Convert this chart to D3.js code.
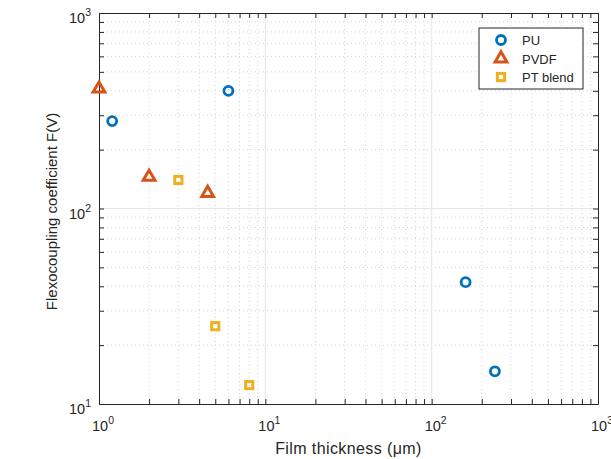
<!DOCTYPE html>
<html>
<head>
<meta charset="utf-8">
<script src="https://cdn.jsdelivr.net/npm/d3@7"></script>
<style>
  body { margin: 0; background: #fff; }
  text { font-family: "Liberation Sans", Arial, sans-serif; fill: #262626; }
</style>
</head>
<body>
<div id="chart"></div>
<script>
// data
const puX = [1.2, 6, 160, 240];
const puY = [280, 400, 42, 14.7];
const pvdfX = [1, 2, 4.5];
const pvdfY = [410, 145, 120];
const ptX = [3, 5, 8];
const ptY = [140, 25, 12.5];
const seriesNames = ["PU", "PVDF", "PT blend"];
const xTicks = [1, 10, 100, 1000];
const yTicks = [10, 100, 1000];

const W = 611, H = 459;
const margin = { top: 13, right: 13, bottom: 55, left: 99 };
const width = W - margin.left - margin.right;
const height = H - margin.top - margin.bottom;

const svg = d3.select("#chart").append("svg")
    .attr("width", W)
    .attr("height", H);
const g = svg.append("g")
    .attr("transform", `translate(${margin.left},${margin.top})`);

const x = d3.scaleLog().domain([1, 1000]).range([0, width]);
const y = d3.scaleLog().domain([10, 1000]).range([height, 0]);

// minor ticks 2..9 for each decade
const minorX = [], minorY = [];
for (let d = 0; d < 3; d++) for (let k = 2; k < 10; k++) minorX.push(k * Math.pow(10, d));
for (let d = 1; d < 3; d++) for (let k = 2; k < 10; k++) minorY.push(k * Math.pow(10, d));

// grid
g.selectAll(".mgx").data(minorX).enter().append("line")
    .attr("x1", d => x(d)).attr("x2", d => x(d))
    .attr("y1", 0).attr("y2", height)
    .attr("stroke", "#d4d4d4").attr("stroke-width", 1).attr("stroke-dasharray", "1,3");
g.selectAll(".mgy").data(minorY).enter().append("line")
    .attr("y1", d => y(d)).attr("y2", d => y(d))
    .attr("x1", 0).attr("x2", width)
    .attr("stroke", "#d4d4d4").attr("stroke-width", 1).attr("stroke-dasharray", "1,3");
g.selectAll(".gx").data(xTicks.slice(1, -1)).enter().append("line")
    .attr("x1", d => x(d)).attr("x2", d => x(d))
    .attr("y1", 0).attr("y2", height)
    .attr("stroke", "#e6e6e6").attr("stroke-width", 1);
g.selectAll(".gy").data(yTicks.slice(1, -1)).enter().append("line")
    .attr("y1", d => y(d)).attr("y2", d => y(d))
    .attr("x1", 0).attr("x2", width)
    .attr("stroke", "#e6e6e6").attr("stroke-width", 1);

// axes (box with ticks on all sides)
const tickCol = "#262626";
function ticksOn(axisGen, tr) {
    const a = g.append("g").attr("transform", tr).call(axisGen);
    a.select(".domain").attr("stroke", tickCol);
    a.selectAll(".tick line").attr("stroke", tickCol);
    a.selectAll("text").remove();
    return a;
}
ticksOn(d3.axisBottom(x).tickValues(xTicks.concat(minorX)).tickSize(-5).tickSizeOuter(0), `translate(0,${height})`);
ticksOn(d3.axisTop(x).tickValues(xTicks.concat(minorX)).tickSize(-5).tickSizeOuter(0), "translate(0,0)");
ticksOn(d3.axisLeft(y).tickValues(yTicks.concat(minorY)).tickSize(-5).tickSizeOuter(0), "translate(0,0)");
ticksOn(d3.axisRight(y).tickValues(yTicks.concat(minorY)).tickSize(-5).tickSizeOuter(0), `translate(${width},0)`);

// tick labels with superscript
xTicks.forEach(v => {
    const t = g.append("text")
        .attr("x", x(v) + 4)
        .attr("y", height + 27)
        .attr("text-anchor", "middle")
        .attr("font-size", 14.5);
    t.append("tspan").text("10");
    t.append("tspan").attr("dy", -7).attr("font-size", 10.5).text(Math.round(Math.log10(v)));
});
yTicks.forEach(v => {
    const t = g.append("text")
        .attr("x", -8)
        .attr("y", y(v) + 10)
        .attr("text-anchor", "end")
        .attr("font-size", 14.5);
    t.append("tspan").text("10");
    t.append("tspan").attr("dy", -7).attr("font-size", 10.5).text(Math.round(Math.log10(v)));
});

// axis labels
svg.append("text")
    .attr("x", margin.left + width / 2)
    .attr("y", H - 5)
    .attr("text-anchor", "middle")
    .attr("font-size", 16)
    .attr("letter-spacing", 0.4)
    .text("Film thickness (μm)");
svg.append("text")
    .attr("transform", `translate(57,${margin.top + height / 2 + 3}) rotate(-90)`)
    .attr("text-anchor", "middle")
    .attr("font-size", 15)
    .text("Flexocoupling coefficient F(V)");

// markers
const colors = ["#0072BD", "#D95319", "#EDB120"];
const tri = d3.symbol().type(d3.symbolTriangle).size(60);

g.selectAll(".pu").data(puX).enter().append("circle")
    .attr("cx", d => x(d))
    .attr("cy", (d, i) => y(puY[i]))
    .attr("r", 4.5)
    .attr("fill", "none")
    .attr("stroke", colors[0])
    .attr("stroke-width", 2.8);

g.selectAll(".pvdf").data(pvdfX).enter().append("path")
    .attr("d", tri)
    .attr("transform", (d, i) => `translate(${x(d)},${y(pvdfY[i])})`)
    .attr("fill", "none")
    .attr("stroke", colors[1])
    .attr("stroke-width", 3);

g.selectAll(".pt").data(ptX).enter().append("rect")
    .attr("x", d => x(d) - 3.6)
    .attr("y", (d, i) => y(ptY[i]) - 3.6)
    .attr("width", 7.2)
    .attr("height", 7.2)
    .attr("fill", "none")
    .attr("stroke", colors[2])
    .attr("stroke-width", 3);

// legend
const lg = svg.append("g").attr("transform", "translate(479,28)");
lg.append("rect")
    .attr("width", 104).attr("height", 61)
    .attr("fill", "#fff").attr("stroke", "#262626").attr("stroke-width", 1);
seriesNames.forEach((name, i) => {
    const cy = 12 + i * 18.5;
    const cx = 22;
    if (i === 0) {
        lg.append("circle").attr("cx", cx).attr("cy", cy).attr("r", 4.5)
            .attr("fill", "none").attr("stroke", colors[0]).attr("stroke-width", 2.8);
    } else if (i === 1) {
        lg.append("path").attr("d", tri).attr("transform", `translate(${cx},${cy})`)
            .attr("fill", "none").attr("stroke", colors[1]).attr("stroke-width", 3);
    } else {
        lg.append("rect").attr("x", cx - 3.6).attr("y", cy - 3.6).attr("width", 7.2).attr("height", 7.2)
            .attr("fill", "none").attr("stroke", colors[2]).attr("stroke-width", 3);
    }
    lg.append("text")
        .attr("x", 43)
        .attr("y", cy + 5)
        .attr("font-size", 13)
        .text(name);
});
</script>
</body>
</html>
